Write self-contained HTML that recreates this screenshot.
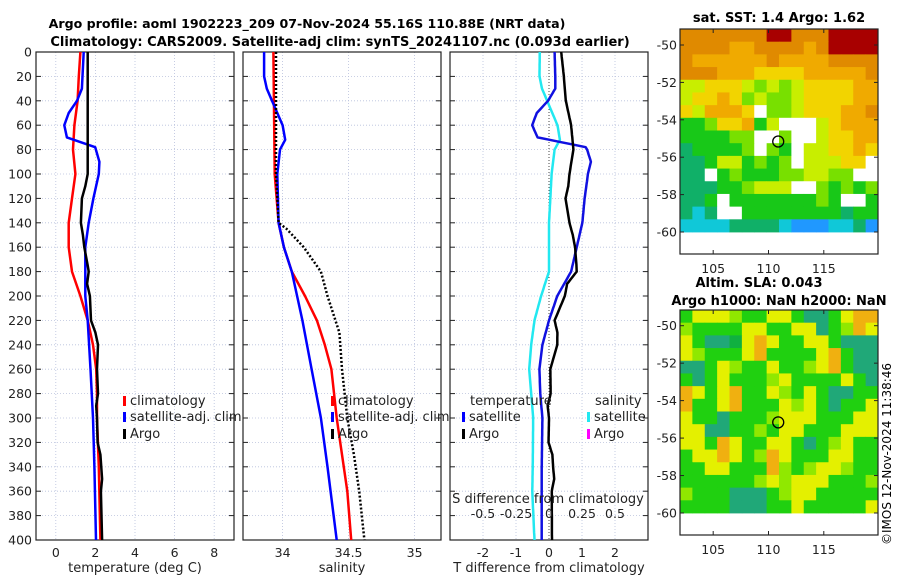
<!DOCTYPE html>
<html><head><meta charset="utf-8">
<style>
html,body{margin:0;padding:0;background:#fff;}
svg{display:block;font-family:"DejaVu Sans","Liberation Sans",sans-serif;}
</style></head>
<body>
<svg id="fig" width="900" height="580" viewBox="0 0 900 580" xmlns="http://www.w3.org/2000/svg">
<text x="307" y="28" text-anchor="middle" font-size="12.6" font-weight="bold">Argo profile: aoml 1902223_209 07-Nov-2024 55.16S 110.88E (NRT data)</text>
<text x="340" y="46" text-anchor="middle" font-size="13" font-weight="bold">Climatology: CARS2009. Satellite-adj clim: synTS_20241107.nc (0.093d earlier)</text>
<text x="779" y="22" text-anchor="middle" font-size="13" font-weight="bold">sat. SST: 1.4 Argo: 1.62</text>
<text x="759" y="287" text-anchor="middle" font-size="13" font-weight="bold">Altim. SLA: 0.043</text>
<text x="779" y="305" text-anchor="middle" font-size="13" font-weight="bold">Argo h1000: NaN h2000: NaN</text>
<text transform="translate(891,545) rotate(-90)" font-size="12">©IMOS 12-Nov-2024 11:38:46</text>
</svg>
<script>
// ---- profile data ----
const climTDepth=[0,20,40,60,80,100,120,140,160,180,200,220,240,260,280,300,340,400];
const climT=[1.24,1.16,1.1,0.94,0.87,0.99,0.82,0.65,0.65,0.82,1.24,1.61,1.88,2.04,2.08,2.08,2.17,2.25];
const satTDepth=[0,30,40,50,60,70,78,90,100,120,140,160,180,200,220,260,300,340,400];
const satT=[1.41,1.32,1.07,0.65,0.43,0.56,1.99,2.2,2.17,1.9,1.66,1.49,1.49,1.49,1.61,1.75,1.88,1.95,2.03];
const argoTDepth=[0,100,110,120,140,150,160,175,180,190,200,220,230,240,260,280,290,300,320,330,350,360,400];
const argoT=[1.61,1.61,1.49,1.32,1.27,1.37,1.44,1.61,1.66,1.58,1.72,1.78,2.0,2.13,2.08,2.13,2.04,2.08,2.11,2.25,2.34,2.28,2.34];
const climSDepth=[0,100,140,160,180,200,220,240,260,300,360,400];
const climS=[33.93,33.94,33.97,34.01,34.07,34.17,34.26,34.32,34.37,34.41,34.49,34.52];
const satSDepth=[0,20,30,40,60,72,80,100,140,160,180,220,260,300,340,400];
const satS=[33.86,33.86,33.88,33.92,34.0,34.02,33.98,33.96,33.97,34.01,34.07,34.15,34.22,34.29,34.34,34.41];
const argoSDepth=[0,100,140,145,160,180,200,230,260,300,330,360,400];
const argoS=[33.95,33.95,33.97,34.03,34.16,34.29,34.34,34.43,34.45,34.49,34.54,34.58,34.62];
const depthTicks=[0,20,40,60,80,100,120,140,160,180,200,220,240,260,280,300,320,340,360,380,400];
const tTicks=[0,2,4,6,8];
const sTicks=[34,34.5,35];
const dTicks=[-2,-1,0,1,2];
const sdTicks=[-0.5,-0.25,0,0.25,0.5];
// ---- map grids ----
const sstGrid=["OOOOOOORROOORRRR","OOOOooOOOOoORRRR","OooooooOooooOOOO","OOOoooYYYYoooooO","yyYYYyLyLyYYYYoo","yYYoYLyLLyYYYYoo","YyoooYWLLyYYYooO","GGLYYoGyWWWyYooo","GGGGLLWWLWWyYYoo","gGGGGLWLGWyyYYoY","ggGyyGLGLWyyyYYW","ggWGLGGGLLyyLLWW","gggGGLyyyWWLGLGL","ggGWGGGGGGGLGWWG","gCgWWGGGGGGGGgGG","CCCCggggCBBBCCgB"];
const slaGrid=["GyyyLGGyyGttGyoo","LGGGGyyGGyytGLoy","yGttgyoyGGyyGttt","yLGGGyoGGGGyoGtt","ttGyLGGyGGLyoGtt","GtGyGGGLyGGGGyGt","oyGyoGGyLGyGttGG","oGGyoGGGyLyGtGGy","yGGtGGGLyyyGGGyy","yyttGGLGyyGGGyyy","yyGoyGGyyGtGLyGG","GyyoyGLoyGGGyyGG","GGyyGGGoLGLyyLGG","GGGGGGLyLyyyGGGL","LGGGtttGLyyGGGGG","GGGGtttGGyGGGGGy"];
const lonTicks=[105,110,115];
const latTicks=[-50,-52,-54,-56,-58,-60];
const argoPos=[110.88,-55.16];

const NS="http://www.w3.org/2000/svg";
const svg=document.getElementById('fig');
function mk(tag,attrs,parent){const e=document.createElementNS(NS,tag);for(const k in attrs)e.setAttribute(k,attrs[k]);(parent||svg).appendChild(e);return e;}
function interp(ds,vs,d){if(d<=ds[0])return vs[0];for(let i=1;i<ds.length;i++){if(d<=ds[i]){const f=(d-ds[i-1])/(ds[i]-ds[i-1]);return vs[i-1]+f*(vs[i]-vs[i-1]);}}return vs[vs.length-1];}
const Y0=52,Y1=540;
const yD=d=>Y0+(d/400)*(Y1-Y0);
function panel(name,x0,x1,xmin,xmax){return {name,x0,x1,x:v=>x0+(v-xmin)/(xmax-xmin)*(x1-x0)};}
const P1=panel('temperature',36,234,-1,9), P2=panel('salinity',243,441,33.7,35.2), P3=panel('difference',450,648,-3,3);

function frame(P,xt,lbl,xlabel,leftLabels){
  const g=mk('g',{});
  
  
  depthTicks.forEach(d=>{const l=mk('line',{x1:P.x0,x2:P.x1,y1:yD(d),y2:yD(d),stroke:'#b8c0dc','stroke-width':0.8,'stroke-dasharray':'1,2'},g);
    
    mk('line',{x1:P.x0,x2:P.x0+5,y1:yD(d),y2:yD(d),stroke:'#222'},g);mk('line',{x1:P.x1-5,x2:P.x1,y1:yD(d),y2:yD(d),stroke:'#222'},g);
    if(leftLabels){const t=mk('text',{x:P.x0-4,y:yD(d)+4.5,'text-anchor':'end','font-size':12.5,fill:'#222'},g);t.textContent=d;
      }
  });
  xt.forEach(v=>{const x=P.x(v);const l=mk('line',{x1:x,x2:x,y1:Y0,y2:Y1,stroke:'#b8c0dc','stroke-width':0.8,'stroke-dasharray':'1,2'},g);
    
    const t=mk('text',{x:x,y:557,'text-anchor':'middle','font-size':12.5,fill:'#222'},g);t.textContent=lbl(v);
    });
  const r=mk('rect',{x:P.x0,y:Y0,width:P.x1-P.x0,height:Y1-Y0,fill:'none',stroke:'#222','stroke-width':1.2},g);
  
  const t=mk('text',{x:(P.x0+P.x1)/2,y:572,'text-anchor':'middle','font-size':13,fill:'#222'},g);t.textContent=xlabel;
  
}
frame(P1,tTicks,v=>v,'temperature (deg C)',true);
frame(P2,sTicks,v=>v,'salinity',false);
frame(P3,dTicks,v=>v,'T difference from climatology',false);

function line(P,ds,vs,color,w,name,dash){
  const pts=ds.map((d,i)=>P.x(vs[i]).toFixed(1)+','+yD(d).toFixed(1)).join(' ');
  const a={points:pts,fill:'none',stroke:color,'stroke-width':w,'stroke-linejoin':'round'};if(dash)a['stroke-dasharray']=dash;
  const e=mk('polyline',a);
  
  
}
line(P1,climTDepth,climT,'#ff0000',2.5,'temp-climatology-line');
line(P1,satTDepth,satT,'#0000ff',2.5,'temp-satellite-line');
line(P1,argoTDepth,argoT,'#000',2.5,'temp-argo-line');
line(P2,climSDepth,climS,'#ff0000',2.5,'sal-climatology-line');
line(P2,satSDepth,satS,'#0000ff',2.5,'sal-satellite-line');
line(P2,argoSDepth,argoS,'#000',2.5,'sal-argo-line','2,2');
const zl=mk('line',{x1:P3.x(0),x2:P3.x(0),y1:Y0,y2:Y1,stroke:'#444','stroke-width':1,'stroke-dasharray':'1,2'});

const dd=[];for(let d=0;d<=400;d+=2)dd.push(d);
const diffSatS=dd.map(d=>(interp(satSDepth,satS,d)-interp(climSDepth,climS,d))*4);
const diffSatT=dd.map(d=>interp(satTDepth,satT,d)-interp(climTDepth,climT,d));
const diffArgoT=dd.map(d=>interp(argoTDepth,argoT,d)-interp(climTDepth,climT,d));
line(P3,dd,diffSatS,'#22e8f0',2.5,'sal-diff-satellite-line');
line(P3,dd,diffSatT,'#1010e0',2.5,'temp-diff-satellite-line');
line(P3,dd,diffArgoT,'#000',2.5,'temp-diff-argo-line');
function txt(x,y,s,size,anchor,name,extra){const t=mk('text',Object.assign({x:x,y:y,'font-size':size,'text-anchor':anchor||'start',fill:'#222'},extra||{}));t.textContent=s;
  return t;}
txt(548,503,'S difference from climatology',13,'middle','s-diff-axis-title');
sdTicks.forEach(v=>txt(P3.x(v*4),518,String(v),12.5,'middle','s-diff-tick-label'));
function leg(x,y,color,label){const r=mk('rect',{x:x,y:y-9,width:3,height:10,fill:color});
  
  txt(x+7,y,label,13,'start','legend-entry');}
[[P1,123],[P2,331]].forEach(([P,x])=>{leg(x,405,'#ff0000','climatology');leg(x,421,'#0000ff','satellite-adj. clim');leg(x,438,'#000','Argo');});
txt(470,405,'temperature',13,'start','legend-heading-temperature');
leg(462,421,'#0000ff','satellite');leg(462,438,'#000','Argo');
txt(595,405,'salinity',13,'start','legend-heading-salinity');
leg(587,421,'#22e8f0','satellite');leg(587,438,'#ff00ff','Argo');

const colors={R:'#a80000',O:'#e08a00',o:'#f0aa00',Y:'#f2d400',y:'#c8ee00',L:'#78e000',G:'#18c818',g:'#10b068',C:'#10c8d8',B:'#2098ff',W:'#ffffff',t:'#20a878'};
const slaColors={G:'#20d010',g:'#10b040',L:'#90e800',y:'#e4f000',o:'#f0b010',t:'#20a878'};
function map(name,x0,x1,ytop,ybot,lat2y,grid,cols,dataBot){
  const g=mk('g',{});
  
  
  const lon=v=>x0+(v-102)/(119.9-102)*(x1-x0);
  const nR=grid.length,nC=grid[0].length,cw=(x1-x0)/nC,ch=(dataBot-ytop)/nR;
  grid.forEach((row,i)=>{for(let j=0;j<nC;j++){const c=mk('rect',{x:(x0+j*cw).toFixed(2),y:(ytop+i*ch).toFixed(2),width:(cw+0.4).toFixed(2),height:(ch+0.4).toFixed(2),fill:cols[row[j]]},g);
    }});
  const r=mk('rect',{x:x0,y:ytop,width:x1-x0,height:ybot-ytop,fill:'none',stroke:'#222','stroke-width':1.2},g);
  
  latTicks.forEach(v=>{const y=lat2y(v);mk('line',{x1:x0,x2:x0+4,y1:y,y2:y,stroke:'#222'},g);mk('line',{x1:x1-4,x2:x1,y1:y,y2:y,stroke:'#222'},g);
    const t=mk('text',{x:x0-3,y:y+4.5,'text-anchor':'end','font-size':12.5,fill:'#222'},g);t.textContent=v;
    });
  lonTicks.forEach(v=>{const x=lon(v);mk('line',{x1:x,x2:x,y1:ytop,y2:ytop+4,stroke:'#222'},g);mk('line',{x1:x,x2:x,y1:ybot-4,y2:ybot,stroke:'#222'},g);
    const t=mk('text',{x:x,y:ybot+19,'text-anchor':'middle','font-size':12.5,fill:'#222'},g);t.textContent=v;
    });
  const c=mk('circle',{cx:lon(argoPos[0]),cy:lat2y(argoPos[1]),r:5.5,fill:'none',stroke:'#000','stroke-width':1.3},g);
  
}
map('sst-map',680,878,29,254,v=>45+(-50-v)*18.7,sstGrid,colors,232);
map('sla-map',680,878,310,535,v=>325.7+(-50-v)*18.73,slaGrid,slaColors,513);
</script>
</body></html>
